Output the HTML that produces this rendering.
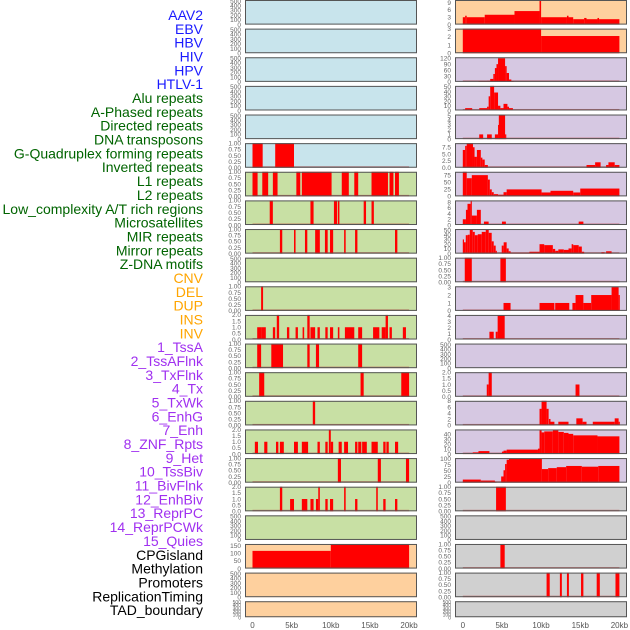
<!DOCTYPE html>
<html><head><meta charset="utf-8">
<style>
html,body{margin:0;padding:0;background:#fff;}
svg{display:block;font-family:"Liberation Sans",sans-serif;}
</style></head>
<body>
<svg id="chart" width="630" height="630" viewBox="0 0 630 630" xmlns="http://www.w3.org/2000/svg"></svg>
<script>
// ---- labels ----
const labels = ["AAV2","EBV","HBV","HIV","HPV","HTLV-1","Alu repeats","A-Phased repeats","Directed repeats","DNA transposons","G-Quadruplex forming repeats","Inverted repeats","L1 repeats","L2 repeats","Low_complexity A/T rich regions","Microsatellites","MIR repeats","Mirror repeats","Z-DNA motifs","CNV","DEL","DUP","INS","INV","1_TssA","2_TssAFlnk","3_TxFlnk","4_Tx","5_TxWk","6_EnhG","7_Enh","8_ZNF_Rpts","9_Het","10_TssBiv","11_BivFlnk","12_EnhBiv","13_ReprPC","14_ReprPCWk","15_Quies","CPGisland","Methylation","Promoters","ReplicationTiming","TAD_boundary"];
const labelGroups = [6,13,5,15,5]; // counts: virus, repeats, SV, chromatin, other
const xTicks = [0,5,10,15,20];
const xTickLabels = ["0","5kb","10kb","15kb","20kb"];
// ---- tick sets ----
const T500=[0,100,200,300,400,500];
const T1=[0,0.25,0.5,0.75,1];
const T2=[0,0.5,1,1.5,2];
const T150=[0,50,100,150];
const T9=[0,3,6,9];
const T3=[0,1,2,3];
const T120=[0,30,60,90,120];
const T50=[0,10,20,30,40,50];
const T5=[0,1,2,3,4,5];
const T75=[0,2.5,5,7.5];
const T25=[0,25,50,75];
const T8=[0,2,4,6,8];
const T4=[0,1,2,3,4];
const T40=[0,10,20,30,40];
const T100=[0,25,50,75,100];
// ---- left column series: [startKb, endKb, value] ----
const L5=[[0,1.3,1],[2.9,5.3,1]];
const L6=[[0,0.65,1],[1.25,2.0,1],[2.6,3.2,1],[5.6,6.1,1],[6.3,10.1,1],[11.4,12.3,1],[13.0,13.5,1],[15.2,17.3,1],[17.5,18.0,1],[18.2,18.7,1]];
const L7=[[2.2,2.6,1],[7.4,7.8,1],[10.4,10.8,1],[10.9,11.1,1],[14.2,14.5,1],[15.2,15.5,1]];
const L8=[[3.5,3.8,1],[5.3,5.5,1],[6.7,7.0,1],[8.0,8.6,1],[9.25,9.6,1],[9.9,10.3,1],[11.7,11.9,1],[13.1,13.4,1],[18.2,18.5,1]];
const L10=[[1.1,1.35,1]];
const L11=[[0.6,1.1,1],[1.1,1.7,1],[2.6,2.9,1],[3.1,3.4,2],[4.4,4.7,1],[5.5,5.8,1],[6.4,6.6,1],[7.0,7.3,2],[7.4,8.0,1],[8.3,8.6,1],[9.3,9.6,1],[9.9,10.3,1],[10.9,11.1,1],[11.8,13.0,1],[13.5,14.0,1],[15.4,16.2,1],[16.5,17.0,1],[17.0,17.3,2],[17.5,17.8,1],[19.2,19.6,1]];
const L12=[[0.6,1.1,1],[2.4,3.9,1],[7.0,7.3,1],[8.1,8.5,1],[13.5,14.0,1]];
const L13=[[0.85,1.5,1],[13.8,14.2,1],[19.0,20.0,1]];
const L14=[[7.7,8.0,1]];
const L15=[[0.3,0.7,1],[1.5,1.9,1],[3.0,3.3,1],[3.5,4.0,1],[5.3,5.8,1],[6.3,7.1,1],[8.3,8.6,1],[9.3,9.6,1],[9.75,10.0,2],[10.0,10.3,1],[11.0,11.4,1],[11.7,12.2,1],[13.1,13.4,1],[13.5,13.9,1],[14.0,14.6,1],[15.2,16.0,1],[16.7,17.0,1],[17.1,17.4,1],[18.2,18.6,1]];
const L16=[[10.9,11.3,1],[16.0,16.4,1],[19.6,20.0,1]];
const L17=[[3.5,3.8,2],[4.8,5.3,1],[6.3,7.0,1],[7.4,7.8,1],[8.1,8.4,1],[8.4,8.6,2],[9.3,9.6,1],[9.9,10.3,1],[11.7,11.9,2],[13.1,13.4,1],[15.8,16.0,2],[16.7,17.0,1],[18.2,18.5,1]];
const L19=[[0,10.0,115],[10.0,20.0,160]];
// ---- right column series ----
const R0=[[0,0.3,3],[0.3,0.5,3.6],[0.5,2.8,3],[2.8,6.6,4],[6.6,9.8,5.5],[9.8,10.0,10],[10.0,13.3,3],[13.3,13.5,3.6],[13.5,14.1,3],[14.1,15.5,2.2],[15.5,15.8,2.7],[15.8,17.2,2.2],[17.2,17.4,2.7],[17.4,20,2.2]];
const R1=[[0,10,3],[10,20,2.1]];
const R2=[[2.0,3.1,3],[3.1,3.5,5],[3.5,3.9,15],[3.9,4.1,40],[4.1,4.3,70],[4.3,4.5,90],[4.5,5.4,120],[5.4,5.6,80],[5.6,5.9,45],[5.9,6.2,12],[6.2,6.5,3]];
const R3=[[0.3,1.2,5],[2.1,3.1,5],[3.1,3.3,8],[3.3,3.5,30],[3.5,4.0,52],[4.0,4.5,38],[4.5,4.8,10],[4.8,5.2,5],[5.2,5.7,14],[5.7,5.9,8],[5.9,6.4,5]];
const R4=[[2.1,2.6,1],[3.1,3.7,1],[4.1,4.5,1],[4.5,4.6,3],[4.6,5.4,5],[5.4,5.5,1]];
const R5=[[0,0.3,6.5],[0.3,0.5,8],[0.5,1.3,9],[1.3,1.5,7.5],[1.5,1.8,4],[1.8,2.3,6.5],[2.3,2.5,3.7],[2.5,2.8,3],[2.8,3.2,1],[15.8,16.9,1],[16.9,17.6,2],[18.3,18.6,1],[18.6,19.4,2],[19.4,20,1]];
const R6=[[0,0.5,88],[0.5,1.15,65],[1.15,3.2,76],[3.2,3.45,60],[3.45,3.7,25],[3.7,3.95,15],[3.95,4.5,8],[4.5,5.2,6],[5.2,5.6,15],[5.6,10.06,25],[10.06,11.2,14],[11.2,14.1,20],[14.1,15.0,14],[15.0,20,28]];
const R7=[[0,0.4,2],[0.4,0.6,5.3],[0.6,1.0,7.4],[1.0,1.15,8.6],[1.15,1.8,3.3],[1.8,2.3,5.3],[2.7,3.3,1.2],[5.0,5.5,1.2],[14.8,15.4,1.2]];
const R8=[[0,0.13,30],[0.13,0.38,24],[0.38,0.64,39],[0.64,0.89,40],[0.89,1.27,51],[1.27,1.53,46],[1.53,1.91,39],[1.91,2.42,41],[2.42,2.93,46],[2.93,3.31,50],[3.31,3.69,44],[3.69,3.95,26],[3.95,4.2,17],[4.2,4.33,6],[4.97,5.22,17],[5.22,5.6,24],[5.6,5.86,11],[5.86,6.11,5],[6.11,8.5,2],[8.5,9.8,4],[9.8,10.4,20],[10.4,11.5,18],[11.5,11.8,10],[11.8,12.2,6],[12.2,12.9,9],[12.9,13.5,8],[13.5,13.9,11],[13.9,14.1,20],[14.1,14.8,18],[14.8,15.2,15],[15.2,15.5,4],[17.7,18.1,3],[18.3,19.0,5]];
const R9=[[0.25,1.15,1],[4.8,5.5,1]];
const R10=[[5.2,6.1,1],[9.8,11.7,1],[11.8,13.6,1],[14.0,14.4,1],[14.4,15.4,2],[15.4,16.4,1],[16.4,19.0,2],[19.0,19.9,3],[19.9,20,2]];
const R11=[[3.4,3.95,1.3],[4.2,4.45,1.3],[4.45,5.35,4]];
const R13=[[3.06,3.3,1],[3.3,3.7,2],[14.4,14.9,1]];
const R14=[[9.8,10.06,5.4],[10.06,10.7,8],[10.7,10.96,5.4],[11.0,11.2,2.1],[11.2,11.7,1.2],[12.2,13.5,1.2],[14.5,15.3,2.3],[15.3,15.8,1.2],[16.6,19.4,1.2],[19.4,19.9,2.3],[19.9,20,1.2]];
const R15=[[0,1.27,1.5],[1.27,2.0,3.5],[2.0,3.4,6],[3.4,5.0,1.5],[5.0,5.2,5],[5.2,5.6,7],[5.6,9.6,9],[9.6,9.8,11],[9.8,10.06,48],[10.06,10.4,44],[10.4,11.5,46],[11.5,12.2,48],[12.2,12.9,45],[12.9,13.5,43],[13.5,14.1,41],[14.1,17.2,38],[17.2,20,36]];
const R16=[[0,2.3,13],[2.3,4.1,9],[4.1,4.3,4],[4.9,5.2,26],[5.2,5.4,52],[5.4,5.6,78],[5.6,5.9,96],[5.9,10.1,100],[10.1,10.9,57],[10.9,12.0,61],[12.0,13.2,65],[13.2,15.2,70],[15.2,17.3,67],[17.3,20,70]];
const R17=[[4.25,5.5,1]];
const R19=[[4.8,5.35,1]];
const R20=[[10.7,11.1,1],[12.4,12.65,1],[13.3,13.55,1],[15.1,15.4,1],[17.1,17.5,1],[19.5,20,1]];

const BLUE="#c8e4ec", GREEN="#c8e0a4", ORANGE="#fed09e", PURPLE="#d6c8e2", GRAY="#d0d0d0";
// [col,row,bg,ticks,ymax,series]
const panels=[
 [0,0,BLUE,T500,520,null],[0,1,BLUE,T500,520,null],[0,2,BLUE,T500,520,null],[0,3,BLUE,T500,520,null],[0,4,BLUE,T500,520,null],
 [0,5,BLUE,T1,1,L5],[0,6,GREEN,T1,1,L6],[0,7,GREEN,T1,1,L7],[0,8,GREEN,T1,1,L8],[0,9,GREEN,T500,520,null],
 [0,10,GREEN,T1,1,L10],[0,11,GREEN,T2,2,L11],[0,12,GREEN,T1,1,L12],[0,13,GREEN,T1,1,L13],[0,14,GREEN,T1,1,L14],
 [0,15,GREEN,T2,2,L15],[0,16,GREEN,T1,1,L16],[0,17,GREEN,T2,2,L17],[0,18,GREEN,T500,520,null],[0,19,ORANGE,T150,160,L19],
 [0,20,ORANGE,T500,520,null],[0,21,ORANGE,T500,520,null],
 [1,0,ORANGE,T9,10,R0],[1,1,ORANGE,T3,3,R1],[1,2,PURPLE,T120,125,R2],[1,3,PURPLE,T50,52,R3],[1,4,PURPLE,T5,5.2,R4],
 [1,5,PURPLE,T75,9,R5],[1,6,PURPLE,T25,88,R6],[1,7,PURPLE,T8,8.6,R7],[1,8,PURPLE,T50,52,R8],[1,9,PURPLE,T1,1,R9],
 [1,10,PURPLE,T3,3.1,R10],[1,11,PURPLE,T4,4.1,R11],[1,12,PURPLE,T500,520,null],[1,13,PURPLE,T2,2,R13],[1,14,PURPLE,T8,8,R14],
 [1,15,PURPLE,T40,50,R15],[1,16,PURPLE,T100,103,R16],[1,17,GRAY,T1,1,R17],[1,18,GRAY,T500,520,null],[1,19,GRAY,T1,1,R19],
 [1,20,GRAY,T1,1,R20],[1,21,GRAY,T500,520,null]
];

const NS="http://www.w3.org/2000/svg";
const svg=document.getElementById('chart');
function mk(tag,attrs,parent){const e=document.createElementNS(NS,tag);for(const k in attrs)e.setAttribute(k,attrs[k]);(parent||svg).appendChild(e);return e;}

const colX=[245,455], colW=172;
const dataX0=[252.5,462.8], pxPerKb=7.83;
function xScale(col,kb){return dataX0[col]+kb*pxPerKb;}
function rowTop(r){return r*28.63;}
function rowH(r){return r===21?16:24.6;}
function fmt(ticks,v){
  if(ticks===T1) return v.toFixed(2);
  if(ticks===T2||ticks===T75) return v.toFixed(1);
  return String(v);
}

// labels
const groupColors=["#1a1aff","#006400","#ffa500","#a030f0","#000000"];
let gi=0,cnt=0;
labels.forEach((t,i)=>{
  while(cnt>=labelGroups[gi]){gi++;cnt=0;}
  cnt++;
  const el=mk('text',{x:203,y:20+i*13.84,'text-anchor':'end','font-size':14,fill:groupColors[gi]});
  el.textContent=t;
  
  
});

panels.forEach(p=>{
  const [col,row,bg,ticks,ymax,ser]=p;
  const top=rowTop(row), h=rowH(row), x=colX[col];
  const g=mk('g',{});
  
  
  const bgR=mk('rect',{x:x,y:top,width:colW,height:h,fill:bg},g);
  
  
  const yS=v=>top+h-Math.min(v,ymax)/ymax*h;
  if(ser){
    const bl=mk('rect',{x:xScale(col,0),y:top+h-1.5,width:xScale(col,20)-xScale(col,0),height:1.5,fill:'#b03030',opacity:0.55},g);
    
    
    ser.forEach(s=>{
      const x0=xScale(col,s[0]), x1=xScale(col,s[1]);
      const b=mk('rect',{x:x0,y:yS(s[2]),width:Math.max(1.2,x1-x0),height:top+h-yS(s[2]),fill:'#ff0000'},g);
      
      
    });
  }
  const fr=mk('rect',{x:x+0.5,y:top+0.5,width:colW-1,height:h-1,fill:'none',stroke:'#555',"stroke-width":1},g);
  
  
  ticks.forEach(v=>{
    const t=mk('text',{x:x-4,y:yS(v)+2.3,'text-anchor':'end','font-size':(row===21?5:6.5),fill:'#666'},g);
    t.textContent=fmt(ticks,v);
    
    
  });
});

// x axis
[0,1].forEach(col=>{
  xTicks.forEach((v,i)=>{
    const t=mk('text',{x:xScale(col,v),y:628,'text-anchor':'middle','font-size':8,fill:'#555'});
    t.textContent=xTickLabels[i];
    
    
  });
});
</script>
</body></html>
